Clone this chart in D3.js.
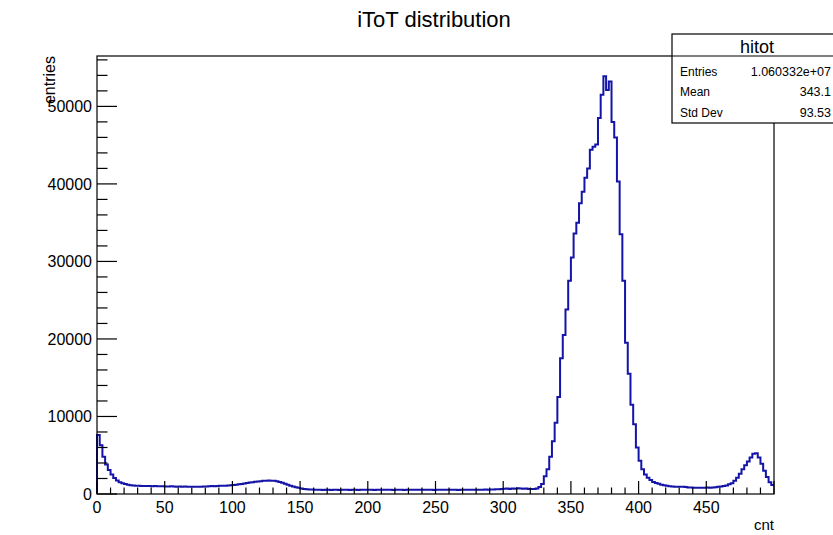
<!DOCTYPE html>
<html>
<head>
<meta charset="utf-8">
<script src="https://cdn.jsdelivr.net/npm/d3@7"></script>
<style>
  html, body { margin: 0; padding: 0; background: #fff; }
  svg { display: block; font-family: "Liberation Sans", Arial, Helvetica, sans-serif; }
</style>
</head>
<body>
<svg id="chart" width="833" height="535"></svg>
<script>
// ---- data ----
const histName = "hitot";
const titleText = "iToT distribution";
const xLabel = "cnt";
const yLabel = "entries";
const xMin = 0, xMax = 500, binWidth = 2;
const yMax = 56500;
const xTickValues = [0, 50, 100, 150, 200, 250, 300, 350, 400, 450];
const yTickValues = [0, 10000, 20000, 30000, 40000, 50000];
const statLabels = ["Entries", "Mean", "Std Dev"];
const statValues = ["1.060332e+07", "343.1", "93.53"];
// bin contents, bins of width 2 from 0 to 500 (250 bins)
const counts = [
  7600, 6300, 4800, 3800, 3100, 2500, 2050, 1750, 1520, 1380,
  1280, 1190, 1130, 1090, 1060, 1050, 1040, 1030, 1040, 1020,
  1010, 1030, 1000, 1010, 990, 980, 970, 990, 960, 950,
  970, 940, 960, 930, 950, 940, 920, 950, 930, 960,
  980, 1000, 1020, 1010, 1040, 1060, 1050, 1080, 1100, 1120,
  1150, 1200, 1250, 1300, 1350, 1420, 1480, 1530, 1580, 1620,
  1660, 1700, 1720, 1730, 1720, 1700, 1650, 1550, 1450, 1320,
  1200, 1080, 980, 880, 800, 720, 660, 620, 590, 570,
  560, 540, 550, 530, 560, 545, 520, 540, 555, 530,
  545, 560, 535, 520, 540, 550, 530, 545, 560, 540,
  555, 540, 530, 550, 545, 560, 535, 540, 550, 530,
  545, 555, 540, 530, 550, 545, 560, 540, 535, 550,
  545, 550, 540, 555, 530, 545, 560, 540, 550, 535,
  545, 555, 540, 530, 550, 545, 540, 555, 545, 550,
  560, 550, 545, 570, 560, 575, 590, 600, 620, 640,
  680, 700, 650, 720, 690, 740, 700, 680, 720, 660,
  650, 640, 700, 900, 1300, 2300, 3200, 4800, 6800, 9200,
  12500, 17500, 20500, 23800, 27500, 30500, 33600, 35000, 37500, 39000,
  40800, 42000, 44400, 44800, 45100, 48500, 51500, 53900, 52100, 53200,
  48000, 46000, 40300, 33500, 27500, 19500, 15500, 11500, 9000, 6000,
  4300, 3200, 2500, 2100, 1800, 1550, 1420, 1320, 1200, 1120,
  1050, 1000, 970, 940, 930, 940, 920, 900, 850, 830,
  820, 810, 820, 800, 810, 830, 820, 840, 880, 930,
  980, 1030, 1100, 1250, 1400, 1700, 2100, 2600, 3200, 3700,
  4200, 4700, 5200, 5250, 4700, 3900, 3000, 2200, 1500, 1150
];

// ---- layout ----
const svg = d3.select("#chart");
const frame = { left: 97, right: 774, top: 56, bottom: 494 };
const x = d3.scaleLinear().domain([xMin, xMax]).range([frame.left, frame.right]);
const y = d3.scaleLinear().domain([0, yMax]).range([frame.bottom, frame.top]);

svg.append("rect").attr("width", 833).attr("height", 535).attr("fill", "#fff");

// histogram step path
const pts = [[x(xMin), y(0)]];
counts.forEach((c, i) => {
  const x0 = xMin + i * binWidth, x1 = x0 + binWidth;
  pts.push([x(x0), y(c)]);
  pts.push([x(x1), y(c)]);
});
svg.append("path")
  .attr("d", d3.line()(pts))
  .attr("fill", "none")
  .attr("stroke", "#1414a8")
  .attr("stroke-width", 2)
  .attr("stroke-linejoin", "miter");

// frame
svg.append("rect")
  .attr("x", frame.left).attr("y", frame.top)
  .attr("width", frame.right - frame.left).attr("height", frame.bottom - frame.top)
  .attr("fill", "none").attr("stroke", "#000").attr("stroke-width", 1.2);

// x axis ticks (inside, pointing up)
const xMinor = d3.range(xMin, xMax + 0.001, 10);
const gx = svg.append("g");
xMinor.forEach(v => {
  const major = v % 50 === 0;
  gx.append("line")
    .attr("x1", x(v)).attr("x2", x(v))
    .attr("y1", frame.bottom).attr("y2", frame.bottom - (major ? 13 : 6.5))
    .attr("stroke", "#000").attr("stroke-width", 1.2);
});
gx.selectAll("text.xt").data(xTickValues).join("text")
  .attr("class", "xt")
  .attr("x", d => x(d)).attr("y", 513)
  .attr("text-anchor", "middle")
  .attr("font-size", 16)
  .text(d => d);

// y axis ticks (inside, pointing right)
const yMinorVals = d3.range(0, yMax, 2000);
const gy = svg.append("g");
yMinorVals.forEach(v => {
  const major = v % 10000 === 0;
  gy.append("line")
    .attr("x1", frame.left).attr("x2", frame.left + (major ? 20 : 10.5))
    .attr("y1", y(v)).attr("y2", y(v))
    .attr("stroke", "#000").attr("stroke-width", 1.2);
});
gy.selectAll("text.yt").data(yTickValues).join("text")
  .attr("class", "yt")
  .attr("x", 92).attr("y", d => y(d) + 6)
  .attr("text-anchor", "end")
  .attr("font-size", 16)
  .text(d => d);

// axis titles
svg.append("text")
  .attr("transform", `translate(55, ${frame.top}) rotate(-90)`)
  .attr("text-anchor", "end")
  .attr("font-size", 16)
  .text(yLabel);
svg.append("text")
  .attr("x", frame.right).attr("y", 530)
  .attr("text-anchor", "end")
  .attr("font-size", 15)
  .text(xLabel);

// title
svg.append("text")
  .attr("x", 434).attr("y", 27)
  .attr("text-anchor", "middle")
  .attr("font-size", 22)
  .text(titleText);

// stats box
const box = { x: 672, y: 34, w: 170, h: 89, head: 22 };
svg.append("rect")
  .attr("x", box.x).attr("y", box.y).attr("width", box.w).attr("height", box.h)
  .attr("fill", "#fff").attr("stroke", "#000").attr("stroke-width", 1.2);
svg.append("line")
  .attr("x1", box.x).attr("x2", box.x + box.w)
  .attr("y1", box.y + box.head).attr("y2", box.y + box.head)
  .attr("stroke", "#000").attr("stroke-width", 1.2);
svg.append("text")
  .attr("x", 757).attr("y", 53)
  .attr("text-anchor", "middle")
  .attr("font-size", 18)
  .text(histName);
const rowY = [76, 96, 117];
statLabels.forEach((lab, i) => {
  svg.append("text").attr("x", 680).attr("y", rowY[i])
    .attr("font-size", 12).text(lab);
  svg.append("text").attr("x", 831).attr("y", rowY[i])
    .attr("text-anchor", "end").attr("font-size", 12.5).text(statValues[i]);
});
</script>
</body>
</html>
